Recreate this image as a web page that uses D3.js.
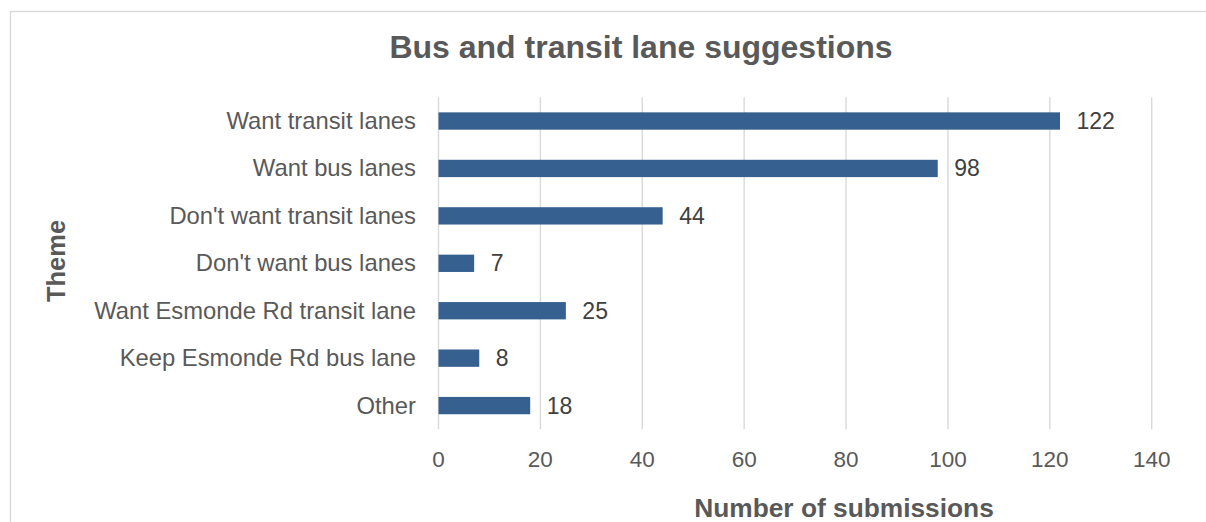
<!DOCTYPE html>
<html>
<head>
<meta charset="utf-8">
<script src="https://cdn.jsdelivr.net/npm/d3@7"></script>
<style>
  body { margin: 0; background: #fff; }
  svg { display: block; font-family: "Liberation Sans", Arial, sans-serif; }
</style>
</head>
<body>
<svg width="1206" height="522"></svg>
<script>
var categories = ["Want transit lanes", "Want bus lanes", "Don't want transit lanes",
    "Don't want bus lanes", "Want Esmonde Rd transit lane", "Keep Esmonde Rd bus lane", "Other"];
var values = [122, 98, 44, 7, 25, 8, 18];
var xTicks = [0, 20, 40, 60, 80, 100, 120, 140];

var svg = d3.select("svg");

// chart border (runs past the right/bottom edge)
svg.append("rect")
    .attr("x", 10.5).attr("y", 11.5)
    .attr("width", 1400).attr("height", 700)
    .attr("fill", "none")
    .attr("stroke", "#d9d9d9")
    .attr("stroke-width", 1.3);

var x = d3.scaleLinear().domain([0, 140]).range([438.5, 1151.7]);
var y = d3.scaleBand().domain(categories).range([97.3, 429.3])
    .paddingInner(0.635).paddingOuter(0.3175);

// gridlines
svg.append("g")
    .selectAll("line")
    .data(xTicks)
    .enter().append("line")
    .attr("x1", function (d) { return x(d); })
    .attr("x2", function (d) { return x(d); })
    .attr("y1", 97.3)
    .attr("y2", 429.3)
    .attr("stroke", "#d9d9d9")
    .attr("stroke-width", 1.4);

// x tick labels
svg.append("g")
    .selectAll("text")
    .data(xTicks)
    .enter().append("text")
    .attr("x", function (d) { return x(d); })
    .attr("y", 466.5)
    .attr("text-anchor", "middle")
    .attr("font-size", "22.5px")
    .attr("fill", "#595959")
    .text(function (d) { return d; });

// bars
svg.append("g")
    .selectAll("rect")
    .data(values)
    .enter().append("rect")
    .attr("x", x(0))
    .attr("y", function (d, i) { return y(categories[i]); })
    .attr("width", function (d) { return x(d) - x(0); })
    .attr("height", y.bandwidth())
    .attr("fill", "#36608f");

// value labels
svg.append("g")
    .selectAll("text")
    .data(values)
    .enter().append("text")
    .attr("x", function (d) { return x(d) + 16.5; })
    .attr("y", function (d, i) { return y(categories[i]) + y.bandwidth() / 2 + 8; })
    .attr("font-size", "23px")
    .attr("fill", "#404040")
    .text(function (d) { return d; });

// category labels
svg.append("g")
    .selectAll("text")
    .data(categories)
    .enter().append("text")
    .attr("x", 416)
    .attr("y", function (d) { return y(d) + y.bandwidth() / 2 + 8; })
    .attr("text-anchor", "end")
    .attr("font-size", "23.8px")
    .attr("fill", "#595959")
    .text(function (d) { return d; });

// title
svg.append("text")
    .attr("x", 641)
    .attr("y", 58)
    .attr("text-anchor", "middle")
    .attr("font-size", "32px")
    .attr("font-weight", "bold")
    .attr("fill", "#595959")
    .text("Bus and transit lane suggestions");

// axis titles
svg.append("text")
    .attr("x", 844)
    .attr("y", 517)
    .attr("text-anchor", "middle")
    .attr("font-size", "26.3px")
    .attr("font-weight", "bold")
    .attr("fill", "#595959")
    .text("Number of submissions");

svg.append("text")
    .attr("transform", "translate(65,261) rotate(-90)")
    .attr("text-anchor", "middle")
    .attr("font-size", "25.5px")
    .attr("font-weight", "bold")
    .attr("fill", "#595959")
    .text("Theme");
</script>
</body>
</html>
